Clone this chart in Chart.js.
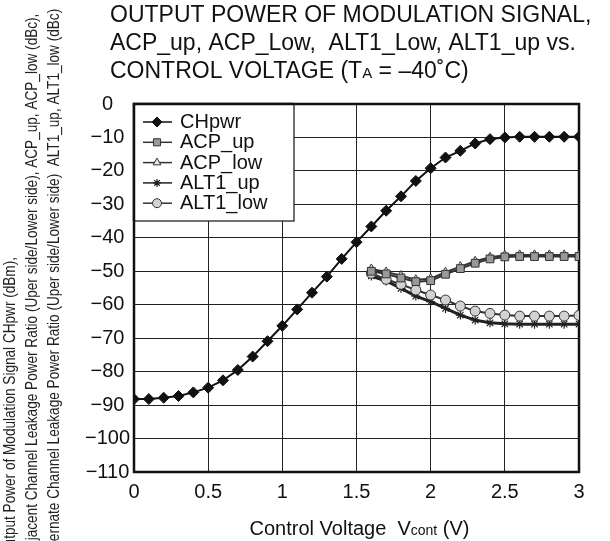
<!DOCTYPE html>
<html>
<head>
  <script src="https://cdn.jsdelivr.net/npm/chart.js@4"></script>
  <style>
    body { margin: 0; background: #fff; }
    canvas { display: block; }
  </style>
</head>
<body>
  <canvas id="chart" width="610" height="541"></canvas>
  <script>
    // control voltage steps (V)
    const vAll = [0, 0.1, 0.2, 0.3, 0.4, 0.5, 0.6, 0.7, 0.8, 0.9, 1.0, 1.1, 1.2, 1.3, 1.4, 1.5,
                  1.6, 1.7, 1.8, 1.9, 2.0, 2.1, 2.2, 2.3, 2.4, 2.5, 2.6, 2.7, 2.8, 2.9, 3.0];
    const vHigh = [1.6, 1.7, 1.8, 1.9, 2.0, 2.1, 2.2, 2.3, 2.4, 2.5, 2.6, 2.7, 2.8, 2.9, 3.0];

    // dBm
    const chpwr = [-88.2, -88.2, -87.8, -87.3, -86.2, -84.8, -82.6, -79.5, -75.5, -70.9, -66.3,
                   -61.4, -56.4, -51.6, -46.3, -41.3, -36.6, -31.9, -27.6, -23.0, -19.2,
                   -16.0, -14.0, -11.8, -10.5, -10.0, -9.8, -9.8, -9.8, -9.8, -9.8];
    // dBc
    const acpUp   = [-50.0, -50.8, -52.0, -53.1, -52.8, -50.9, -49.2, -47.6, -46.3, -45.7, -45.6, -45.6, -45.6, -45.6, -45.6];
    const acpLow  = [-49.3, -50.2, -51.3, -52.5, -52.2, -50.3, -48.6, -47.0, -45.8, -45.2, -45.1, -45.1, -45.1, -45.1, -45.1];
    const alt1Up  = [-51.4, -52.9, -55.1, -57.4, -59.1, -61.1, -63.1, -64.6, -65.4, -65.7, -65.8, -65.8, -65.8, -65.8, -65.8];
    const alt1Low = [-50.6, -52.4, -53.9, -55.6, -57.1, -58.6, -60.4, -61.9, -62.6, -63.1, -63.4, -63.4, -63.4, -63.4, -63.2];

    const xTicks = [0, 0.5, 1, 1.5, 2, 2.5, 3];
    const yTicks = [0, -10, -20, -30, -40, -50, -60, -70, -80, -90, -100, -110];

    const seriesNames = ['CHpwr', 'ACP_up', 'ACP_low', 'ALT1_up', 'ALT1_low'];

    const titleLines = ['OUTPUT POWER OF MODULATION SIGNAL,', 'ACP_up, ACP_Low,  ALT1_Low, ALT1_up vs.'];
    const yTitleLines = [
      'Output Power of Modulation Signal CHpwr (dBm),',
      'Adjacent Channel Leakage Power Ratio (Uper side/Lower side), ACP_up, ACP_low (dBc),',
      'Alternate Channel Leakage Power Ratio (Uper side/Lower side)  ALT1_up, ALT1_low (dBc)'
    ];

    const pts = (xs, ys) => xs.map((x, i) => ({ x, y: ys[i] }));
    const SANS = '"Liberation Sans", Arial, sans-serif';

    const datasets = [
      { label: seriesNames[0], data: pts(vAll, chpwr), order: 0,
        borderColor: '#111', borderWidth: 2, pointStyle: 'rectRot', pointRadius: 5.5,
        pointBackgroundColor: '#111', pointBorderColor: '#111', pointBorderWidth: 1 },
      { label: seriesNames[1], data: pts(vHigh, acpUp), order: 1,
        borderColor: '#333', borderWidth: 2, pointStyle: 'rect', pointRadius: 5.5,
        pointBackgroundColor: '#999', pointBorderColor: '#333', pointBorderWidth: 1 },
      { label: seriesNames[2], data: pts(vHigh, acpLow), order: 2,
        borderColor: '#333', borderWidth: 2, pointStyle: 'triangle', pointRadius: 5,
        pointBackgroundColor: '#e6e6e6', pointBorderColor: '#333', pointBorderWidth: 1 },
      { label: seriesNames[3], data: pts(vHigh, alt1Up), order: 4,
        borderColor: '#222', borderWidth: 3, pointStyle: 'star', pointRadius: 4.5,
        pointBackgroundColor: '#222', pointBorderColor: '#222', pointBorderWidth: 1.2 },
      { label: seriesNames[4], data: pts(vHigh, alt1Low), order: 3,
        borderColor: '#333', borderWidth: 2, pointStyle: 'circle', pointRadius: 5,
        pointBackgroundColor: '#d2d2d2', pointBorderColor: '#333', pointBorderWidth: 1 }
    ];

    // thick frame around the plot area
    const frame = {
      id: 'frame',
      beforeDatasetsDraw(chart) {
        const { ctx, chartArea: a } = chart;
        ctx.save();
        ctx.strokeStyle = '#111';
        ctx.lineWidth = 2.5;
        ctx.strokeRect(a.left, a.top, a.right - a.left, a.bottom - a.top);
        ctx.restore();
      }
    };

    // boxed legend in the upper left corner of the plot
    const legendBox = {
      id: 'legendBox',
      afterDatasetsDraw(chart) {
        const { ctx, chartArea: a } = chart;
        const w = 160, h = 117;
        ctx.save();
        ctx.fillStyle = '#fff';
        ctx.fillRect(a.left, a.top, w, h);
        ctx.strokeStyle = '#222';
        ctx.lineWidth = 1.3;
        ctx.strokeRect(a.left, a.top, w, h);
        ctx.lineWidth = 2.5;
        ctx.strokeStyle = '#111';
        ctx.beginPath();
        ctx.moveTo(a.left, a.top + h);
        ctx.lineTo(a.left, a.top);
        ctx.lineTo(a.left + w, a.top);
        ctx.stroke();

        chart.data.datasets.forEach((ds, i) => {
          const y = a.top + 18 + i * 20.3;
          ctx.strokeStyle = ds.borderColor;
          ctx.lineWidth = 1.5;
          ctx.beginPath();
          ctx.moveTo(a.left + 9, y);
          ctx.lineTo(a.left + 38, y);
          ctx.stroke();
          ctx.fillStyle = ds.pointBackgroundColor;
          ctx.strokeStyle = ds.pointBorderColor;
          ctx.lineWidth = ds.pointBorderWidth;
          Chart.helpers.drawPoint(ctx, {
            pointStyle: ds.pointStyle, radius: ds.pointRadius - 0.5, rotation: 0,
            borderWidth: ds.pointBorderWidth
          }, a.left + 23, y);
          ctx.fillStyle = '#111';
          ctx.font = '20px ' + SANS;
          ctx.textAlign = 'left';
          ctx.textBaseline = 'alphabetic';
          ctx.fillText(ds.label, a.left + 46, y + 6);
        });
        ctx.restore();
      }
    };

    // chart title, axis titles
    const texts = {
      id: 'texts',
      afterDraw(chart) {
        const { ctx, chartArea: a } = chart;
        ctx.save();
        ctx.fillStyle = '#111';
        ctx.textBaseline = 'alphabetic';
        ctx.textAlign = 'left';

        // title
        ctx.font = '23px ' + SANS;
        ctx.fillText(titleLines[0], 110, 22);
        ctx.fillText(titleLines[1], 110, 50);
        let x = 110;
        const parts = [['CONTROL VOLTAGE (T', 23], ['A', 15], [' = \u201340\u02DAC)', 23]];
        parts.forEach(([s, size]) => {
          ctx.font = size + 'px ' + SANS;
          ctx.fillText(s, x, 78);
          x += ctx.measureText(s).width;
        });

        // x axis title
        const xParts = [['Control Voltage  V', 20], ['cont', 14], [' (V)', 20]];
        let total = 0;
        xParts.forEach(([s, size]) => { ctx.font = size + 'px ' + SANS; total += ctx.measureText(s).width; });
        x = (a.left + a.right) / 2 + 3 - total / 2;
        xParts.forEach(([s, size]) => {
          ctx.font = size + 'px ' + SANS;
          ctx.fillText(s, x, 535);
          x += ctx.measureText(s).width;
        });

        // y axis title, three condensed rotated lines running off the bottom edge
        ctx.fillStyle = '#222';
        ctx.font = '16px ' + SANS;
        ctx.textBaseline = 'middle';
        const squeeze = 300 / ctx.measureText(yTitleLines[0]).width;
        [11, 33, 55].forEach((cx, i) => {
          ctx.save();
          ctx.translate(cx, 557);
          ctx.rotate(-Math.PI / 2);
          ctx.scale(squeeze, 1);
          ctx.fillText(yTitleLines[i], 0, 0);
          ctx.restore();
        });
        ctx.restore();
      }
    };

    const fmtY = v => v < 0 ? '\u2212' + Math.abs(v) : String(v);

    new Chart(document.getElementById('chart').getContext('2d'), {
      type: 'line',
      data: { datasets },
      options: {
        responsive: false,
        animation: false,
        devicePixelRatio: 1,
        layout: { padding: { left: 0, right: 31, top: 104, bottom: 0 } },
        plugins: { legend: { display: false }, tooltip: { enabled: false } },
        elements: { line: { tension: 0 } },
        scales: {
          x: {
            type: 'linear', min: 0, max: 3,
            afterBuildTicks: s => { s.ticks = xTicks.map(value => ({ value })); },
            afterFit: s => { s.height = 69; },
            ticks: { font: { size: 20, family: SANS }, color: '#111', padding: 8,
                     callback: v => String(v) },
            grid: { color: '#222', lineWidth: 1, drawTicks: false },
            border: { display: false }
          },
          y: {
            type: 'linear', min: -110, max: 0,
            afterBuildTicks: s => { s.ticks = yTicks.map(value => ({ value })); },
            afterFit: s => { s.width = 134; },
            ticks: { font: { size: 20, family: SANS }, color: '#111', padding: 4,
                     crossAlign: 'center', callback: fmtY },
            grid: { color: '#222', lineWidth: 1, drawTicks: false },
            border: { display: false }
          }
        }
      },
      plugins: [frame, legendBox, texts]
    });
  </script>
</body>
</html>
